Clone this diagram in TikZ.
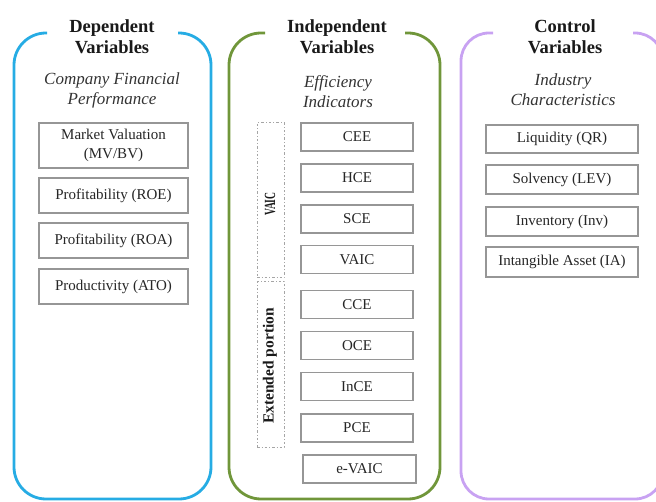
\documentclass[tikz,border=0pt]{standalone}
\usepackage{fontspec}
\setmainfont{Liberation Serif}
\definecolor{cblue}{RGB}{38,172,228}
\definecolor{cgreen}{RGB}{112,150,58}
\definecolor{cpurple}{RGB}{200,162,242}
\definecolor{boxgray}{RGB}{150,150,150}
\definecolor{grpgray}{RGB}{165,165,165}
\begin{document}
\begin{tikzpicture}[x=1pt,y=-1pt,
  frame/.style={line width=2.8pt, rounded corners=32pt},
  title/.style={align=center, font=\fontsize{18.5}{21}\selectfont\bfseries, text=black!90, inner sep=0pt},
  subtitle/.style={align=center, font=\fontsize{17}{20}\selectfont\itshape, text=black!80, inner sep=0pt},
  vbox/.style={draw=boxgray, line width=1.6pt, fill=white, inner sep=0pt, align=center,
    font=\fontsize{15}{19}\selectfont, text=black!85},
  grp/.style={draw=grpgray, line width=1pt, dash pattern=on 2.5pt off 2pt on 1pt off 2pt, inner sep=0pt},
  grplabel/.style={rotate=90, font=\fontsize{15.5}{17}\selectfont\bfseries, text=black!90, inner sep=0pt}
]
\useasboundingbox (0,0) rectangle (656,502);
% frames
\draw[frame, cblue] (47,33) -- (14,33) -- (14,499) -- (211,499) -- (211,33) -- (178,33);
\draw[frame, cgreen] (265,33) -- (229,33) -- (229,499) -- (440,499) -- (440,33) -- (405,33);
\draw[frame, cpurple, rounded corners=28pt] (493,33) -- (461,33) -- (461,499) -- (663,499) -- (663,33) -- (633,33);
% titles
\node[title] (t1) at (112,36.5) {Dependent\\Variables};
\node[title] (t2) at (337,36.5) {Independent\\Variables};
\node[title] (t3) at (565,36.5) {Control\\Variables};
\node[subtitle] (s1) at (112,90) {Company Financial\\Performance};
\node[subtitle] (s2) at (338,92) {Efficiency\\Indicators};
\node[subtitle] (s3) at (563,90) {Industry\\Characteristics};
% dependent boxes
\node[vbox, minimum width=149pt, minimum height=45pt] (mv) at (113.5,145.5) {Market Valuation\\(MV/BV)};
\node[vbox, minimum width=149pt, minimum height=35pt] (roe) at (113.5,195.5) {Profitability (ROE)};
\node[vbox, minimum width=149pt, minimum height=35pt] (roa) at (113.5,240.5) {Profitability (ROA)};
\node[vbox, minimum width=149pt, minimum height=35pt] (ato) at (113.5,286.5) {Productivity (ATO)};
% independent boxes
\node[vbox, minimum width=112pt, minimum height=28pt] (cee) at (357,137) {CEE};
\node[vbox, minimum width=112pt, minimum height=28pt] (hce) at (357,178) {HCE};
\node[vbox, minimum width=112pt, minimum height=28pt] (sce) at (357,219) {SCE};
\node[vbox, minimum width=112pt, minimum height=28pt] (vaic) at (357,259.5) {VAIC};
\node[vbox, minimum width=112pt, minimum height=28pt] (cce) at (357,304.5) {CCE};
\node[vbox, minimum width=112pt, minimum height=28pt] (oce) at (357,345.5) {OCE};
\node[vbox, minimum width=112pt, minimum height=28pt] (ince) at (357,386.5) {InCE};
\node[vbox, minimum width=112pt, minimum height=28pt] (pce) at (357,428) {PCE};
\node[vbox, minimum width=113pt, minimum height=28pt] (evaic) at (359.5,469) {e-VAIC};
% groups
\node[grp, minimum width=27pt, minimum height=155pt] (g1) at (270.5,200.5) {};
\node[grp, minimum width=27pt, minimum height=165pt] (g2) at (270.5,364.5) {};
\node[grplabel] (g1l) at (270,204) {\scalebox{0.62}[1]{VAIC}};
\node[grplabel] (g2l) at (270,366) {Extended portion};
% control boxes
\node[vbox, minimum width=152pt, minimum height=28pt] (qr) at (562,139) {Liquidity (QR)};
\node[vbox, minimum width=152pt, minimum height=29pt] (lev) at (562,179.5) {Solvency (LEV)};
\node[vbox, minimum width=152pt, minimum height=29pt] (inv) at (562,221.5) {Inventory (Inv)};
\node[vbox, minimum width=152pt, minimum height=30pt] (ia) at (562,262) {Intangible Asset (IA)};
\end{tikzpicture}
\end{document}
